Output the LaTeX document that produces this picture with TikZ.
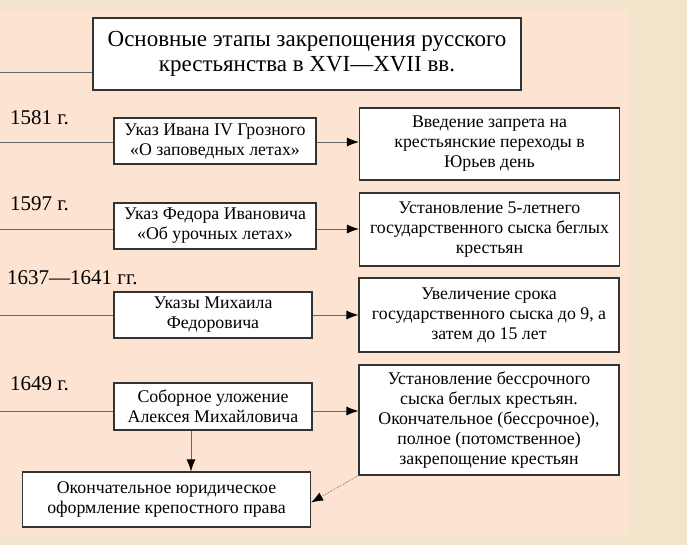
\documentclass[tikz,border=0pt]{standalone}
\usepackage{fontspec}
\setmainfont{Liberation Serif}
\usetikzlibrary{arrows.meta}
\definecolor{peach}{HTML}{FDE3D1}
\definecolor{beige}{HTML}{F2E5CC}
\begin{document}
\begin{tikzpicture}[x=1pt,y=-1pt,
 box/.style={draw=black!80, line width=1.1pt, fill=white, align=center, inner sep=0pt, font=\fontsize{17.8}{20}\selectfont},
 conn/.style={draw=black!60, line width=0.9pt},
 arr/.style={conn, -{Latex[length=12pt,width=9pt,color=black]}},
 datelbl/.style={anchor=west, inner sep=0pt, font=\fontsize{21}{24}\selectfont}]
\useasboundingbox (0,0) rectangle (687,545);
\fill[beige] (0,0) rectangle (687,545);
\fill[peach] (0,10) rectangle (628,535);

\node[box, line width=1.2pt, minimum width=428pt, minimum height=72pt, font=\fontsize{23}{25}\selectfont] (title) at (307,54) {Основные этапы закрепощения русского\\крестьянства в XVI—XVII вв.};

\node[datelbl] (d1) at (10,118) {1581 г.};
\node[datelbl] (d2) at (10,204) {1597 г.};
\node[datelbl] (d3) at (7,278) {1637—1641 гг.};
\node[datelbl] (d4) at (10,384) {1649 г.};

\node[box, minimum width=202pt, minimum height=46pt] (b1) at (215,141) {Указ Ивана IV Грозного\\«О заповедных летах»};
\node[box, minimum width=202pt, minimum height=46pt] (b2) at (215,226) {Указ Федора Ивановича\\«Об урочных летах»};
\node[box, minimum width=198pt, minimum height=46pt] (b3) at (213,315) {Указы Михаила\\Федоровича};
\node[box, minimum width=198pt, minimum height=47pt] (b4) at (213,406.5) {Соборное уложение\\Алексея Михайловича};

\node[box, minimum width=260pt, minimum height=72pt] (r1) at (489.5,144) {Введение запрета на\\крестьянские переходы в\\Юрьев день};
\node[box, minimum width=260pt, minimum height=73pt] (r2) at (489.5,229.5) {Установление 5-летнего\\государственного сыска беглых\\крестьян};
\node[box, minimum width=260pt, minimum height=74pt] (r3) at (489,315) {Увеличение срока\\государственного сыска до 9, а\\затем до 15 лет};
\node[box, minimum width=260pt, minimum height=110pt] (r4) at (489,420) {Установление бессрочного\\сыска беглых крестьян.\\Окончательное (бессрочное),\\полное (потомственное)\\закрепощение крестьян};

\node[box, minimum width=288pt, minimum height=55pt] (bb) at (166.5,499.5) {Окончательное юридическое\\оформление крепостного права};

\coordinate (t0) at (0,72);
\draw[conn] (t0) -- (t0 -| title.west);

\coordinate (l1) at (0,142);
\coordinate (l2) at (0,229);
\coordinate (l3) at (0,315);
\coordinate (l4) at (0,411);
\foreach \i in {1,2,3,4}{
  \draw[conn] (l\i) -- (l\i -| b\i.west);
  \draw[arr] (l\i -| b\i.east) -- (l\i -| r\i.west);
}
\coordinate (v) at (191,0);
\draw[arr] (v |- b4.south) -- (v |- bb.north);
\draw[densely dotted, black!60, line width=0.7pt, -{Latex[length=12pt,width=9pt,color=black]}] (r4.south west) -- ([yshift=-3pt]bb.east);
\end{tikzpicture}
\end{document}
